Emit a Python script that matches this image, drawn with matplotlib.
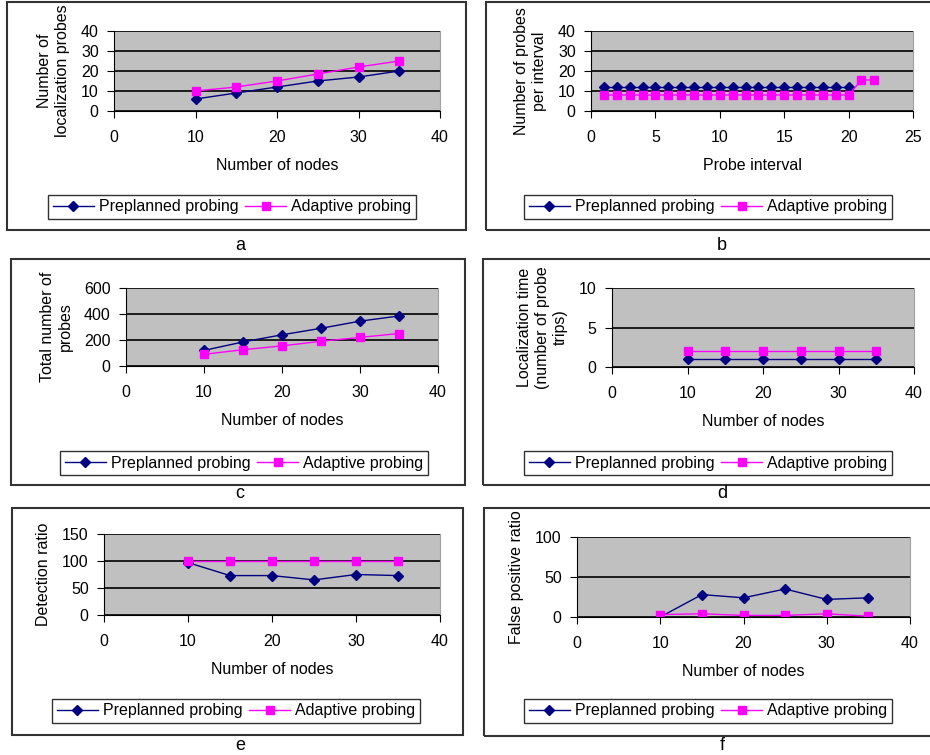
import matplotlib.pyplot as plt
from matplotlib.patches import Rectangle

plt.rcParams['font.family'] = ['Liberation Sans', 'DejaVu Sans']

nodes = [10, 15, 20, 25, 30, 35]

# a: localization probes
a_pre = [6, 9, 12, 15, 17, 20]
a_ada = [10, 12, 15, 18.5, 22, 25]

# b: probes per interval
b_pre_x = list(range(1, 21))
b_pre = [12] * 20
b_ada_x = list(range(1, 23))
b_ada = [8] * 20 + [15.5, 15.5]

# c: total probes
c_pre = [120, 185, 240, 290, 345, 385]
c_ada = [90, 125, 155, 190, 220, 250]

# d: localization time
d_pre = [1, 1, 1, 1, 1, 1]
d_ada = [2, 2, 2, 2, 2, 2]

# e: detection ratio
e_pre = [97, 73, 73, 65, 75, 73]
e_ada = [100, 100, 100, 100, 100, 100]

# f: false positive ratio
f_pre = [0, 28, 24, 35, 22, 24]
f_ada = [3, 4, 2, 2, 4, 1]

W, H = 930, 755
fig = plt.figure(figsize=(W / 100, H / 100), dpi=100)

def fbox(x0, y0, x1, y1):
    return [x0 / W, 1 - y1 / H, (x1 - x0) / W, (y1 - y0) / H]

panels = [
    # outer box, plot area, legend center, letter pos
    dict(box=(7, 2, 466, 230), area=(114, 31, 440, 111), leg=(232, 207), let=(240, 246),
         xs=(nodes, nodes), ys=(a_pre, a_ada), xlim=(0, 40), xstep=10, ylim=(0, 40), ystep=10,
         xl='Number of nodes', yl='Number of\nlocalization probes', letter='a'),
    dict(box=(486, 2, 940, 230), area=(591, 31, 913, 111), leg=(708, 207), let=(722, 246),
         xs=(b_pre_x, b_ada_x), ys=(b_pre, b_ada), xlim=(0, 25), xstep=5, ylim=(0, 40), ystep=10,
         xl='Probe interval', yl='Number of probes\nper interval', letter='b'),
    dict(box=(11, 259, 465, 485), area=(126, 288, 438, 366), leg=(244, 463), let=(240, 493),
         xs=(nodes, nodes), ys=(c_pre, c_ada), xlim=(0, 40), xstep=10, ylim=(0, 600), ystep=200,
         xl='Number of nodes', yl='Total number of\nprobes', letter='c'),
    dict(box=(483, 259, 940, 485), area=(612, 288, 914, 367), leg=(708, 463), let=(722, 493),
         xs=(nodes, nodes), ys=(d_pre, d_ada), xlim=(0, 40), xstep=10, ylim=(0, 10), ystep=5,
         xl='Number of nodes', yl='Localization time\n(number of probe\ntrips)', letter='d'),
    dict(box=(12, 508, 463, 735), area=(104, 534, 440, 615), leg=(236, 711), let=(240, 745),
         xs=(nodes, nodes), ys=(e_pre, e_ada), xlim=(0, 40), xstep=10, ylim=(0, 150), ystep=50,
         xl='Number of nodes', yl='Detection ratio', letter='e'),
    dict(box=(484, 508, 940, 736), area=(577, 537, 910, 617), leg=(708, 711), let=(722, 745),
         xs=(nodes, nodes), ys=(f_pre, f_ada), xlim=(0, 40), xstep=10, ylim=(0, 100), ystep=50,
         xl='Number of nodes', yl='False positive ratio', letter='f'),
]

fs = 11.5
for p in panels:
    x0, y0, x1, y1 = p['box']
    fig.add_artist(Rectangle((x0 / W, 1 - y1 / H), (x1 - x0) / W, (y1 - y0) / H,
                             transform=fig.transFigure, fill=False, edgecolor='#333333', lw=1.5))
    ax = fig.add_axes(fbox(*p['area']))
    ax.set_facecolor('#c0c0c0')
    ax.plot(p['xs'][0], p['ys'][0], color='#000080', marker='D', markersize=5, lw=1,
            label='Preplanned probing')
    ax.plot(p['xs'][1], p['ys'][1], color='#ff00ff', marker='s', markersize=6, lw=1,
            label='Adaptive probing')
    ax.set_xlim(*p['xlim'])
    ax.set_ylim(*p['ylim'])
    ax.set_xticks(range(p['xlim'][0], p['xlim'][1] + 1, p['xstep']))
    ax.set_yticks(range(p['ylim'][0], p['ylim'][1] + 1, p['ystep']))
    ax.yaxis.grid(True, color='black', lw=1.2)
    ax.set_axisbelow(True)
    ax.spines['top'].set_visible(False)
    ax.spines['right'].set_color('#a0a0a0')
    ax.tick_params(labelsize=fs, length=5, direction='out', pad=6)
    ax.tick_params(axis='x', pad=9)
    ax.set_xlabel(p['xl'], fontsize=fs, labelpad=9)
    ax.set_ylabel(p['yl'], fontsize=fs, labelpad=8, linespacing=1.25)
    ax.legend(loc='center', bbox_to_anchor=(p['leg'][0] / W, 1 - p['leg'][1] / H),
              bbox_transform=fig.transFigure, ncol=2, fontsize=fs, frameon=True,
              fancybox=False, edgecolor='black', handlelength=2.6, columnspacing=0.4,
              handletextpad=0.3, borderpad=0.3, borderaxespad=0)
    fig.text(p['let'][0] / W, 1 - p['let'][1] / H, p['letter'], fontsize=13,
             ha='center', va='center')

fig.savefig('out.png', dpi=100, facecolor='white')
